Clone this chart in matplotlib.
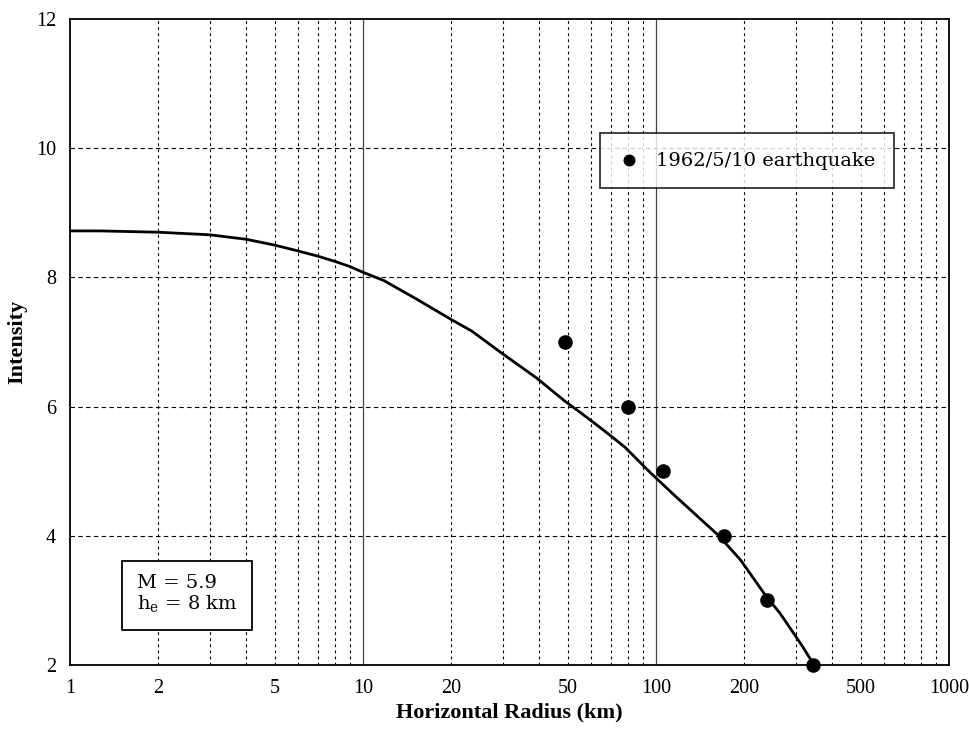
import numpy as np
import matplotlib
matplotlib.use("Agg")
import matplotlib.pyplot as plt
from matplotlib.ticker import FixedLocator, NullLocator

plt.rcParams["font.family"] = ["Liberation Serif", "DejaVu Serif"]
plt.rcParams["mathtext.fontset"] = "custom"
plt.rcParams["mathtext.rm"] = "DejaVu Serif"

# Observed intensities (1962/5/10 earthquake)
obs_radius = [49, 80, 106, 170, 240, 344]
obs_intensity = [7, 6, 5, 4, 3, 2]

# Attenuation curve
curve_radius = [1, 1.27, 2, 3, 4, 5, 6, 7, 8, 9, 10, 11.8, 15.3, 19.8,
                23.5, 29.5, 39.2, 48.7, 57.8, 64.3, 71.3, 78.4, 95.5, 116,
                141, 163, 194, 237, 265, 294, 318, 344]
curve_intensity = [8.72, 8.72, 8.70, 8.66, 8.59, 8.50, 8.41, 8.33, 8.25,
                   8.17, 8.08, 7.95, 7.66, 7.36, 7.17, 6.84, 6.44, 6.09,
                   5.84, 5.68, 5.52, 5.37, 4.98, 4.62, 4.27, 4.01, 3.63,
                   3.07, 2.80, 2.50, 2.27, 2.02]

x_ticks = [1, 2, 5, 10, 20, 50, 100, 200, 500, 1000]
y_ticks = [2, 4, 6, 8, 10, 12]

fig = plt.figure(figsize=(9.69, 7.33), dpi=100)
ax = fig.add_axes([0.0722, 0.0928, 0.9072, 0.8812])

# grid: solid at decades, dashed elsewhere
for dec in [1, 10, 100]:
    for m in range(2, 10):
        ax.axvline(dec * m, color="black", lw=0.8, ls=(0, (2.5, 3)), zorder=1)
for v in [10, 100]:
    ax.axvline(v, color="#444444", lw=0.9, zorder=1)
for v in [4, 6, 8, 10]:
    ax.axhline(v, color="black", lw=0.8, ls=(0, (4, 3)), zorder=1)

ax.plot(curve_radius, curve_intensity, color="black", lw=2, zorder=3,
        solid_joinstyle="round")
ax.scatter(obs_radius, obs_intensity, s=90, color="black", zorder=4,
           label="1962/5/10 earthquake", clip_on=False)

ax.set_xscale("log")
ax.set_xlim(1, 1000)
ax.set_ylim(2, 12)
ax.xaxis.set_major_locator(FixedLocator(x_ticks))
ax.xaxis.set_minor_locator(NullLocator())
ax.set_xticklabels([str(v) for v in x_ticks])
ax.set_yticks(y_ticks)
ax.tick_params(length=0, labelsize=14.5, pad=10)

for s in ax.spines.values():
    s.set_linewidth(1.3)

ax.set_xlabel("Horizontal Radius (km)", fontsize=16, fontweight="bold", labelpad=3)
ax.set_ylabel("Intensity", fontsize=16, fontweight="bold", labelpad=6)

leg = ax.legend(loc="upper left", bbox_to_anchor=(0.6035, 0.8235),
                frameon=True, fancybox=False, edgecolor="black",
                handlelength=1.0, handletextpad=0.9, borderpad=0.95,
                borderaxespad=0, markerscale=0.8,
                prop={"family": "DejaVu Serif", "size": 14})
leg.get_frame().set_linewidth(1.3)

ax.text(0.0762, 0.077, "M = 5.9\nh$_\\mathrm{e}$ = 8 km", transform=ax.transAxes,
        fontsize=14, family="DejaVu Serif", va="bottom", ha="left",
        linespacing=1.1,
        bbox=dict(boxstyle="square,pad=0.75", fc="white", ec="black", lw=1.3),
        zorder=5)

fig.savefig("out.png", dpi=100)
